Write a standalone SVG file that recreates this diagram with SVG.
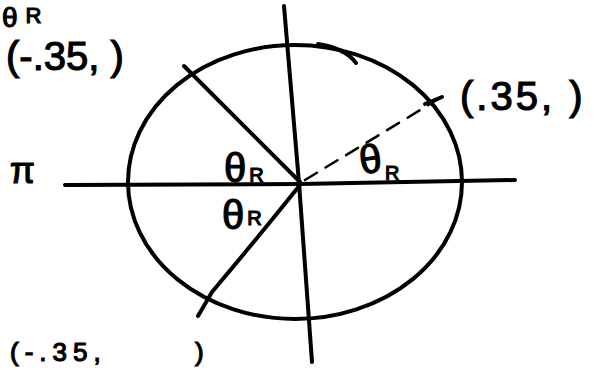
<svg xmlns="http://www.w3.org/2000/svg" width="600" height="370" viewBox="0 0 600 370">
<style>
.ln{fill:none;stroke:#000;stroke-width:4;stroke-linecap:round;stroke-linejoin:round}
.ds{fill:none;stroke:#000;stroke-width:2.5;stroke-linecap:round;stroke-dasharray:14 10}
.t{font-family:"Liberation Sans",Arial,sans-serif;fill:#000;stroke:#000;stroke-width:1.2}
.big{font-size:40px}
.th{font-size:40px}
.sub{font-size:20px}
</style>
<rect width="600" height="370" fill="#fff"/>
<g id="circle">
<ellipse class="ln" cx="295" cy="182" rx="167" ry="137"/>
<path class="ln" d="M318 44 Q345 48 356 63"/>
</g>
<g id="connectors">
<path id="axis-h" class="ln" d="M65 185 L300 184 L515 180"/>
<path id="axis-v" class="ln" d="M284 6 L299 183 L312 362"/>
<path id="radius-ul" class="ln" d="M184 66 L300 182"/>
<path id="radius-ll" class="ln" d="M300 185 Q260 235 212 292 L198 316"/>
<path id="radius-ur" class="ds" d="M305 180 L440 98"/>
<path class="ln" d="M425 104 L442 97"/>
</g>
<g id="labels">
<text class="t th" x="224" y="182">θ<tspan class="sub" dx="3">R</tspan></text>
<text class="t th" x="360" y="173" font-size="32" transform="rotate(-8 370 165)">θ</text>
<text class="t sub" x="385" y="180">R</text>
<text class="t th" x="222" y="229">θ<tspan class="sub" dx="3" dy="-4">R</tspan></text>
<text class="t" x="10" y="183" font-size="36">π</text>
<text class="t" x="2" y="27" font-size="28">θ<tspan dx="8" dy="-4" font-size="22">R</tspan></text>
<text class="t big" x="6" y="70">(-.35, )</text>
<text class="t big" x="460" y="110" letter-spacing="3">(.35,  )</text>
<text class="t" x="10" y="361" font-size="26" letter-spacing="6">(-.35,<tspan x="195">)</tspan></text>
</g>
</svg>
